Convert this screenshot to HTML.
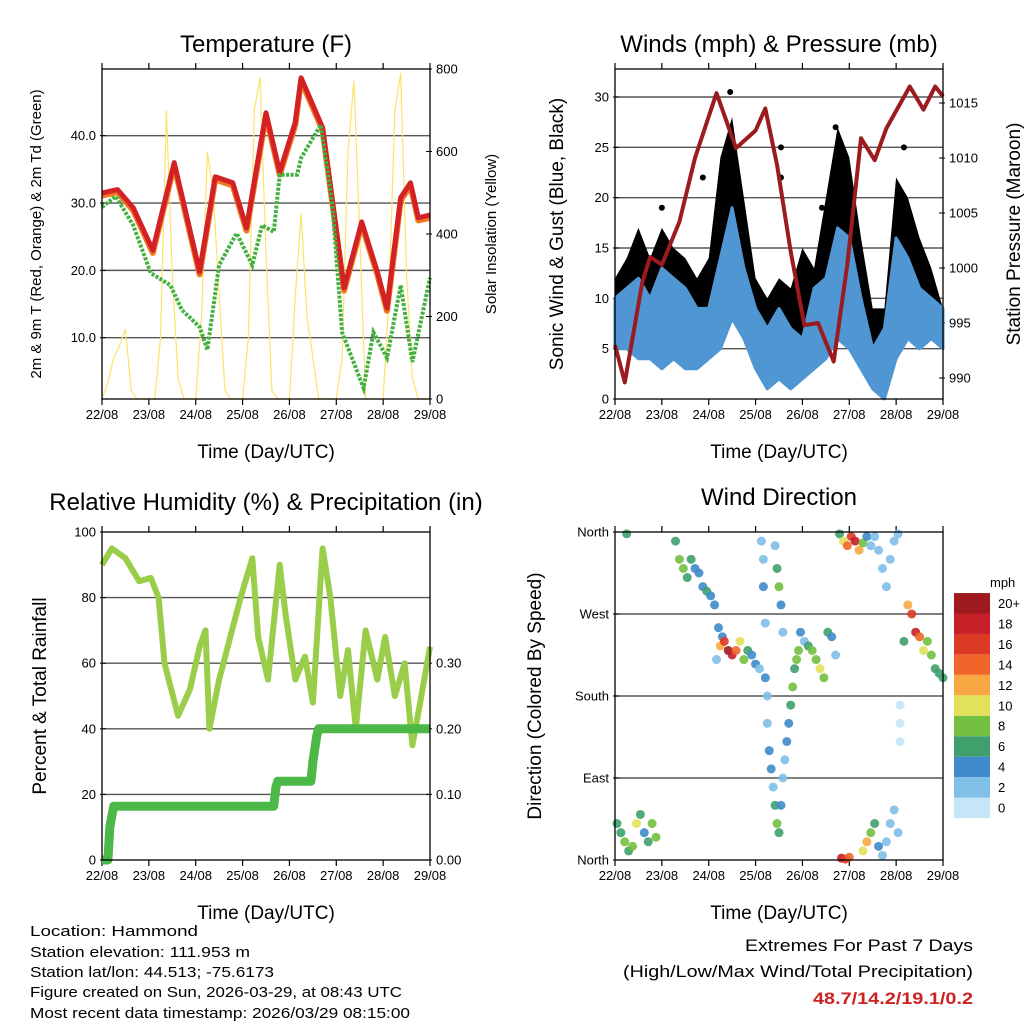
<!DOCTYPE html>
<html><head><meta charset="utf-8"><style>
html,body{margin:0;padding:0;background:#fff;}
svg{display:block;font-family:"Liberation Sans",sans-serif;}
</style></head><body>
<svg id="chart" width="1024" height="1024" viewBox="0 0 1024 1024" xmlns="http://www.w3.org/2000/svg">
<rect width="1024" height="1024" fill="#fff"/>
<g id="layer"></g>
<text x="266" y="52" font-size="24" text-anchor="middle">Temperature (F)</text>
<text x="779" y="52" font-size="24" text-anchor="middle">Winds (mph) &amp; Pressure (mb)</text>
<text x="266" y="510" font-size="24" text-anchor="middle">Relative Humidity (%) &amp; Precipitation (in)</text>
<text x="779" y="505" font-size="24" text-anchor="middle">Wind Direction</text>
<text x="266" y="458" font-size="19" text-anchor="middle">Time (Day/UTC)</text>
<text x="779" y="458" font-size="19" text-anchor="middle">Time (Day/UTC)</text>
<text x="266" y="919" font-size="19" text-anchor="middle">Time (Day/UTC)</text>
<text x="779" y="919" font-size="19" text-anchor="middle">Time (Day/UTC)</text>
<text transform="translate(41,234) rotate(-90)" font-size="15" text-anchor="middle">2m &amp; 9m T (Red, Orange) &amp; 2m Td (Green)</text>
<text transform="translate(496,234) rotate(-90)" font-size="15" text-anchor="middle">Solar Insolation (Yellow)</text>
<text transform="translate(563,234) rotate(-90)" font-size="19" text-anchor="middle">Sonic Wind &amp; Gust (Blue, Black)</text>
<text transform="translate(1020,234) rotate(-90)" font-size="19" text-anchor="middle">Station Pressure (Maroon)</text>
<text transform="translate(46,696) rotate(-90)" font-size="19" text-anchor="middle">Percent &amp; Total Rainfall</text>
<text transform="translate(541,696) rotate(-90)" font-size="19" text-anchor="middle">Direction (Colored By Speed)</text>
<g font-size="15">
<text x="30" y="936" textLength="168" lengthAdjust="spacingAndGlyphs">Location: Hammond</text>
<text x="30" y="957" textLength="220" lengthAdjust="spacingAndGlyphs">Station elevation: 111.953 m</text>
<text x="30" y="977" textLength="244" lengthAdjust="spacingAndGlyphs">Station lat/lon: 44.513; -75.6173</text>
<text x="30" y="997" textLength="372" lengthAdjust="spacingAndGlyphs">Figure created on Sun, 2026-03-29, at 08:43 UTC</text>
<text x="30" y="1018" textLength="380" lengthAdjust="spacingAndGlyphs">Most recent data timestamp: 2026/03/29 08:15:00</text>
</g>
<g text-anchor="end">
<text x="973" y="951" font-size="17" textLength="228" lengthAdjust="spacingAndGlyphs">Extremes For Past 7 Days</text>
<text x="973" y="977" font-size="17" textLength="350" lengthAdjust="spacingAndGlyphs">(High/Low/Max Wind/Total Precipitation)</text>
<text x="973" y="1004" font-size="17" font-weight="bold" fill="#cc2222" textLength="160" lengthAdjust="spacingAndGlyphs">48.7/14.2/19.1/0.2</text>
</g>
</svg>
<script>
// ---------- data ----------
const dayLabels=["22/08","23/08","24/08","25/08","26/08","27/08","28/08","29/08"];
const tempT=[0,8,16,26,37,50,58,67,74,84,91,99,102,113,124,133,141,146,153,158,162,168];
const tempV=[31.5,32,29.3,23,36,19.8,33.9,33,26.3,43.4,34.6,42,48.6,41.2,17.4,27.2,19.8,14.4,30.8,33,27.8,28.2];
const dewT=[0,7,16,25,35,41,50,54,60,69,77,82,88,91,100,102,112,118,123,134,139,146,153,159,168];
const dewV=[29.4,31,26.7,19.6,17.8,14.1,11.6,8.2,20.8,25.5,20.8,26.7,25.7,34.2,34.2,36.7,41.6,29.7,10.8,2.5,10.8,7,17.8,6.4,18.9];
const solarT=[0,3,6,9,12,15,18,21,24,27,30,33,36,39,42,45,48,51,54,57,60,63,66,69,72,75,78,81,84,87,90,93,96,99,102,105,108,111,114,117,120,123,126,129,132,135,138,141,144,147,150,153,156,159,162,165,168];
const solarV=[0,40,100,130,170,20,0,0,0,0,150,700,300,50,0,0,0,200,600,500,250,20,0,0,0,150,700,780,350,20,0,0,0,250,450,200,100,0,0,0,0,100,600,770,400,0,0,0,0,250,700,790,300,50,0,0,0];
const windT=[0,6,12,18,24,30,36,42,48,54,60,66,72,78,84,90,96,102,108,114,120,126,132,138,144,150,156,162,168];
const windMin=[5,5,4,4,3,4,3,3,4,5,8,6,3,1,2,1,2,3,4,6,5,3,1,0,4,6,5,6,5];
const windMax=[10,11,12,10,13,12,11,9,9,14,19,13,9,7,9,7,6,11,12,17,16,10,5,7,16,14,11,10,9];
const gustMax=[12,14,17,14,17,15,14,12,14,24,28,20,12,10,12,11,15,13,20,27,24,16,9,9,22,20,16,13,9];
const gustOutT=[59,85,85,113,148,45,24,106];
const gustOutV=[30.5,22,25,27,25,22,19,19];
const presT=[0,5,14,18,24,33,41,52,62,72,77,83,90,97,104,112,119,126,133,139,151,158,164,168];
const presV=[993,989.6,998.7,1001,1000.3,1004.2,1010,1015.9,1010.9,1012.5,1014.5,1009.4,1001.5,994.8,995,991.5,1000.3,1011.8,1009.8,1012.7,1016.5,1014.4,1016.5,1015.6];
const rhT=[0,5,12,19,25,29,32,39,45,50,53,55,60,71,77,80,85,91,94,99,104,108,113,117,122,126,130,135,141,145,150,155,159,163,168];
const rhV=[90,95,92,85,86,80,60,44,52,65,70,40,55,80,92,68,55,90,75,55,62,48,95,80,50,64,40,70,55,68,50,60,35,48,65];
const rainT=[0,3,4,6,88,89,90,107,108,110,111,168];
const rainV=[0,0,0.05,0.082,0.082,0.11,0.12,0.12,0.15,0.19,0.2,0.2];
const dirT=[1,3,5,7,9,11,13,15,17,19,21,6,31,33,35,37,39,41,43,45,47,49,51,53,55,52,54,56,58,60,62,64,66,68,70,72,74,75,76,76,77,77,78,78,79,80,81,82,83,84,85,86,87,88,89,90,91,92,93,94,82,83,84,85,86,95,97,99,101,103,105,107,109,111,113,115,117,119,121,123,125,127,129,131,116,118,120,127,129,131,133,135,133,135,137,139,141,143,145,137,139,141,143,145,146,146,146,148,150,152,154,156,158,160,162,164,166,168];
const dirD=[40,30,20,10,15,40,50,30,20,40,25,358,350,330,320,310,330,320,315,300,295,290,280,255,245,220,235,240,230,225,230,240,220,230,225,215,210,350,330,300,260,200,180,150,120,100,80,60,40,30,60,90,110,130,150,170,190,210,220,230,345,320,300,280,250,250,240,235,230,220,210,200,250,245,225,358,350,345,355,350,340,348,355,345,2,1,3,10,20,30,40,15,355,340,320,300,330,350,358,5,20,40,55,30,170,150,130,240,280,270,250,245,230,240,225,210,205,200];
const dirS=[6,7,8,6,9,10,6,5,7,9,8,6,6,8,9,6,7,5,5,4,6,4,5,4,4,3,12,16,20,18,14,10,8,6,5,4,3,2,2,4,2,4,3,2,4,4,3,6,8,6,5,3,3,4,5,6,8,7,9,8,3,6,9,4,3,4,3,6,8,9,10,8,6,5,3,6,10,14,16,18,12,8,5,3,18,16,14,10,12,8,6,4,3,2,2,2,2,3,2,2,2,2,2,2,1,0,1,6,12,16,18,14,10,8,8,6,6,6];
// ---------- helpers ----------
const NS="http://www.w3.org/2000/svg";
const layer=document.getElementById('layer');
function mk(tag,attrs,parent){const e=document.createElementNS(NS,tag);for(const k in attrs)e.setAttribute(k,attrs[k]);(parent||layer).appendChild(e);return e;}
function xs(x0,x1){return t=>x0+t/168*(x1-x0);}
function lin(d0,d1,p0,p1){return v=>p0+(v-d0)/(d1-d0)*(p1-p0);}
function path(T,V,fx,fy){return T.map((t,i)=>(i?'L':'M')+fx(t).toFixed(1)+','+fy(V[i]).toFixed(1)).join('');}
function frame(g,x0,x1,y0,y1){
  const fx=xs(x0,x1);
  dayLabels.forEach((d,i)=>{const x=fx(i*24);
    const tk=mk('line',{x1:x,x2:x,y1:y1,y2:y1+6,stroke:'#000','stroke-width':1.2},g);
    
    
    mk('line',{x1:x,x2:x,y1:y0,y2:y0-6,stroke:'#000','stroke-width':1.2},g);
    const tx=mk('text',{x:x,y:y1+20,'font-size':13,'text-anchor':'middle'},g);tx.textContent=d;
    
    
  });
}
function box(g,x0,x1,y0,y1){mk('rect',{x:x0,y:y0,width:x1-x0,height:y1-y0,fill:'none',stroke:'#000','stroke-width':1.3},g);}
function grid(g,x0,x1,ys){ys.forEach(y=>mk('line',{x1:x0,x2:x1,y1:y,y2:y,stroke:'#555','stroke-width':1.4},g));}
function ylab(g,x,y,txt,anchor){const t=mk('text',{x:x,y:y+4.5,'font-size':13,'text-anchor':anchor},g);t.textContent=txt;
  
  
  const tx=anchor==='end'?x+4:x-4; mk('line',{x1:tx,x2:anchor==='end'?tx+6:tx-6,y1:y,y2:y,stroke:'#000'},g);}
// ---------- panel 1: temperature ----------
{
 const g=mk('g',{});
 
 
 const X0=102,X1=430,Y0=69,Y1=399;
 const fx=xs(X0,X1), fy=lin(0.9,49.9,Y1,Y0), fs=lin(0,800,Y1,Y0);
 frame(g,X0,X1,Y0,Y1);
 grid(g,X0,X1,[10,20,30,40].map(fy));
 [10,20,30,40].forEach(v=>ylab(g,X0-6,fy(v),v.toFixed(1),'end'));
 [0,200,400,600,800].forEach(v=>ylab(g,X1+6,fs(v),String(v),'start'));
 const s=mk('path',{d:path(solarT,solarV,fx,fs),fill:'none',stroke:'#fde36a','stroke-width':1.2},g);
 
 
 const o=mk('path',{d:path(tempT,tempV.map(v=>v-0.4),fx,fy),fill:'none',stroke:'#f07a24','stroke-width':6,'stroke-linejoin':'round'},g);
 
 
 const r=mk('path',{d:path(tempT,tempV,fx,fy),fill:'none',stroke:'#d32226','stroke-width':5,'stroke-linejoin':'round'},g);
 
 
 const d=mk('path',{d:path(dewT,dewV,fx,fy),fill:'none',stroke:'#44b040','stroke-width':4,'stroke-dasharray':'3 1.5'},g);
 
 
 box(g,X0,X1,Y0,Y1);
}
// ---------- panel 2: winds ----------
{
 const g=mk('g',{});
 
 
 const X0=615,X1=943,Y0=69,Y1=399;
 const fx=xs(X0,X1), fy=lin(0,30,Y1,97), fp=lin(990,1015,378,103);
 frame(g,X0,X1,Y0,Y1);
 grid(g,X0,X1,[5,10,15,20,25,30].map(fy));
 [0,5,10,15,20,25,30].forEach(v=>ylab(g,X0-6,fy(v),String(v),'end'));
 [990,995,1000,1005,1010,1015].forEach(v=>ylab(g,X1+6,fp(v),String(v),'start'));
 const gp='M'+windT.map((t,i)=>fx(t).toFixed(1)+','+fy(gustMax[i]).toFixed(1)).join('L')+'L'+windT.slice().reverse().map((t,i)=>fx(t).toFixed(1)+','+fy(windMin[windT.length-1-i]).toFixed(1)).join('L')+'Z';
 const gu=mk('path',{d:gp,fill:'#000','stroke-linejoin':'round'},g);
 
 
 gustOutT.forEach((t,i)=>{const c=mk('circle',{cx:fx(t),cy:fy(gustOutV[i]),r:3,fill:'#000'},g);
   
   });
 const wp='M'+windT.map((t,i)=>fx(t).toFixed(1)+','+fy(windMax[i]).toFixed(1)).join('L')+'L'+windT.slice().reverse().map((t,i)=>fx(t).toFixed(1)+','+fy(windMin[windT.length-1-i]).toFixed(1)).join('L')+'Z';
 const wb=mk('path',{d:wp,fill:'#4f96d2',stroke:'#4f96d2','stroke-width':3,'stroke-linejoin':'round'},g);
 
 
 const p=mk('path',{d:path(presT,presV,fx,fp),fill:'none',stroke:'#9b1b1e','stroke-width':4,'stroke-linejoin':'round'},g);
 
 
 box(g,X0,X1,Y0,Y1);
}
// ---------- panel 3: RH ----------
{
 const g=mk('g',{});
 
 
 const X0=102,X1=430,Y0=532,Y1=860;
 const fx=xs(X0,X1), fy=lin(0,100,Y1,Y0), fr=lin(0,0.5,Y1,Y0);
 frame(g,X0,X1,Y0,Y1);
 grid(g,X0,X1,[20,40,60,80].map(fy));
 [0,20,40,60,80,100].forEach(v=>ylab(g,X0-6,fy(v),String(v),'end'));
 [0,0.1,0.2,0.3].forEach(v=>ylab(g,X1+6,fr(v),v.toFixed(2),'start'));
 const rh=mk('path',{d:path(rhT,rhV,fx,fy),fill:'none',stroke:'#9acd4a','stroke-width':6,'stroke-linejoin':'round'},g);
 
 
 const rn=mk('path',{d:path(rainT,rainV,fx,fr),fill:'none',stroke:'#4cb848','stroke-width':9,'stroke-linejoin':'round'},g);
 
 
 box(g,X0,X1,Y0,Y1);
}
// ---------- panel 4: wind direction ----------
{
 const g=mk('g',{});
 
 
 const X0=615,X1=943,Y0=532,Y1=860;
 const fx=xs(X0,X1), fy=lin(0,360,Y1,Y0);
 const cols=['#c4e6f7','#80bfe7','#3f8bcb','#3fa06e','#73c040','#e2e15a','#f8a842','#f0662a','#dd3a26','#c51f28','#9e1a1e'];
 const labels=['0','2','4','6','8','10','12','14','16','18','20+'];
 frame(g,X0,X1,Y0,Y1);
 grid(g,X0,X1,[90,180,270].map(fy));
 [[0,'North'],[90,'East'],[180,'South'],[270,'West'],[360,'North']].forEach(a=>ylab(g,X0-6,fy(a[0]),a[1],'end'));
 dirT.forEach((t,i)=>{const bin=Math.min(10,Math.floor(dirS[i]/2));
   const c=mk('circle',{cx:fx(t),cy:fy(dirD[i]),r:4.5,fill:cols[bin],'fill-opacity':0.9},g);
   
   });
 box(g,X0,X1,Y0,Y1);
 const cb=mk('g',{},g);
 
 
 cols.forEach((c,i)=>{const y=818-(i+1)*20.45;
   mk('rect',{x:954,y:y,width:36,height:20.45,fill:c},cb);
   const t=mk('text',{x:998,y:y+20.45+4.5-10,'font-size':13},cb);t.textContent=labels[i];
   
   });
 const m=mk('text',{x:990,y:587,'font-size':13},cb);m.textContent='mph';
}
</script>
</body></html>
